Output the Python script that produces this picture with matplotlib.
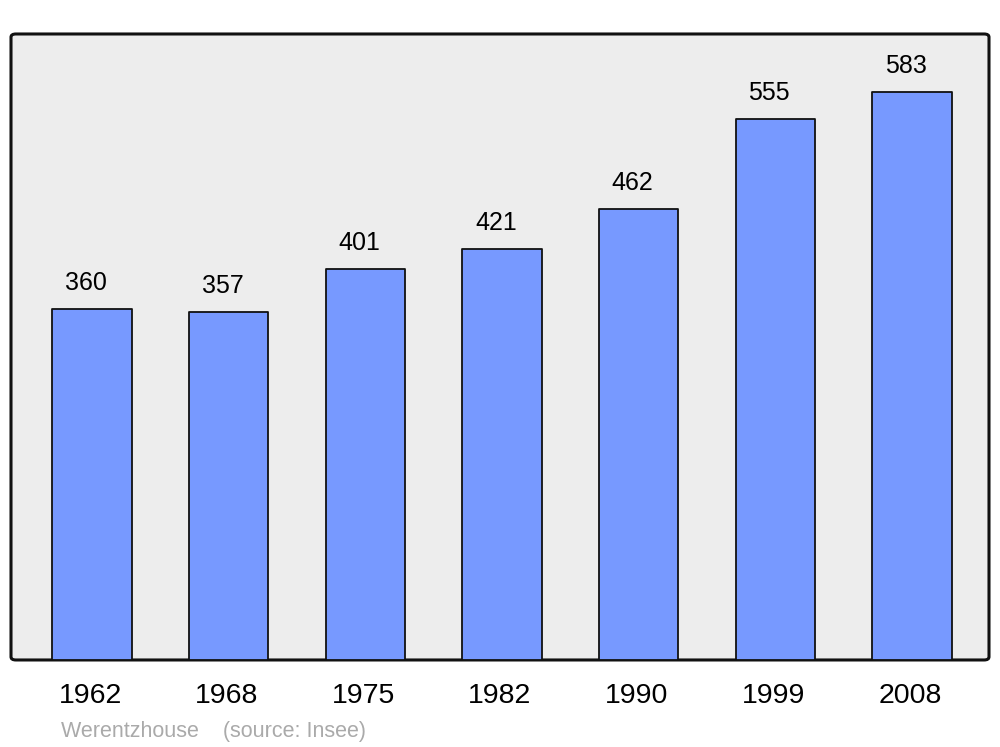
import matplotlib
matplotlib.use("Agg")
import matplotlib.pyplot as plt
from matplotlib.patches import FancyBboxPatch

years = ["1962", "1968", "1975", "1982", "1990", "1999", "2008"]
population = [360, 357, 401, 421, 462, 555, 583]

plt.rcParams['font.family'] = ['Liberation Sans', 'DejaVu Sans']

fig = plt.figure(figsize=(10, 7.47), dpi=100)
ax = fig.add_axes([0.011, 0.1165, 0.978, 0.838])
ax.set_facecolor('none')
ax.set_xlim(-0.593, 6.564)
ax.set_ylim(0, 642)
ax.axis('off')

# background frame with rounded corners
frame = FancyBboxPatch((0, 0), 1, 1,
                       boxstyle="round,pad=0,rounding_size=0.005",
                       transform=ax.transAxes, facecolor='#ededed',
                       edgecolor='#111111', linewidth=2.2, zorder=0,
                       clip_on=False)
ax.add_patch(frame)

bars = ax.bar(range(len(years)), population, width=0.58, color='#7799ff',
              edgecolor='#111111', linewidth=1.3, zorder=2)
for b in bars:
    b.set_joinstyle('round')

for i, v in enumerate(population):
    ax.annotate(str(v), (i, v), xytext=(-6, 26), textcoords='offset pixels',
                ha='center', va='center', fontsize=18, color='black')
    ax.annotate(years[i], (i, 0), xytext=(-2, -36), textcoords='offset pixels',
                ha='center', va='center', fontsize=20.5, color='black',
                annotation_clip=False)

fig.text(0.061, 1 - 731 / 747, "Werentzhouse    (source: Insee)", ha='left',
         va='center', fontsize=15.5, color='#aaaaaa')

fig.savefig("out.png", dpi=100)
